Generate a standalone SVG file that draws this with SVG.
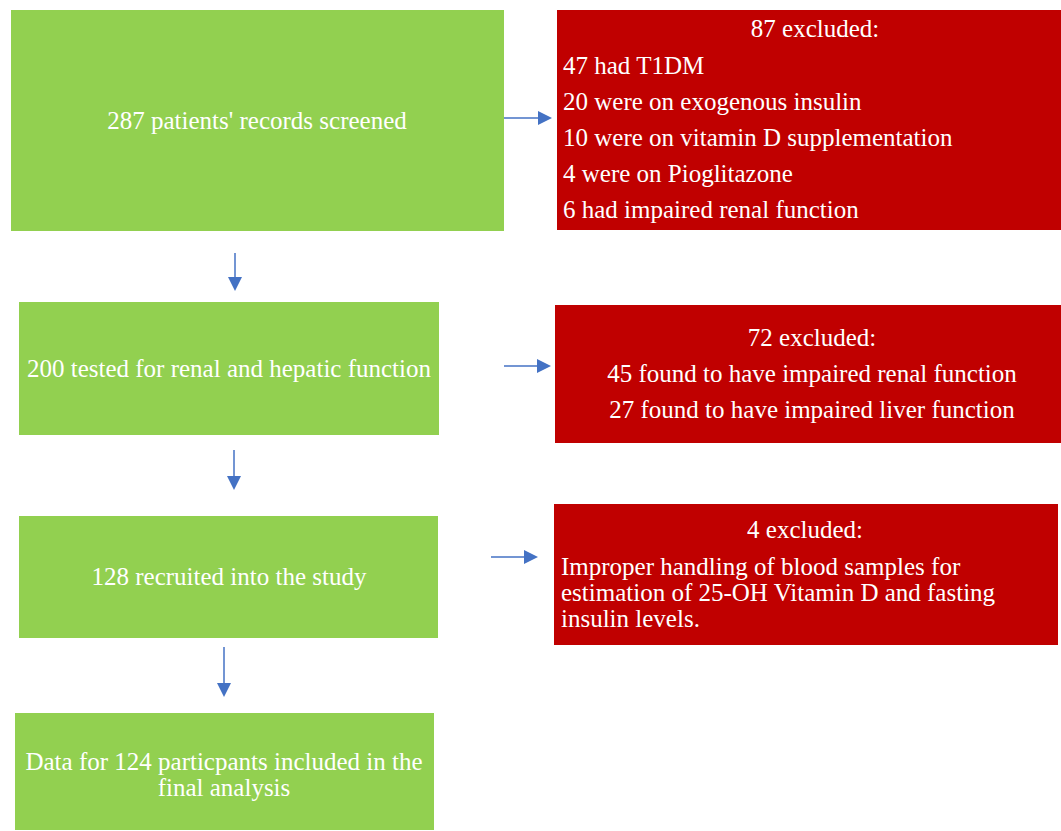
<svg xmlns="http://www.w3.org/2000/svg" width="1061" height="831" viewBox="0 0 1061 831">
<style>
.g{fill:#92D050}
.r{fill:#C00000}
text{font-family:"Liberation Serif","Times New Roman",serif;font-size:25px;fill:#fff}
.c{text-anchor:middle}
.a{stroke:#4472C4;stroke-width:1.5;fill:none}
</style>
<defs>
<marker id="ah2" markerWidth="14" markerHeight="14" refX="0" refY="7" orient="auto" markerUnits="userSpaceOnUse" viewBox="0 0 14 14">
<path d="M0,0 L14,7 L0,14 Z" fill="#4472C4"/>
</marker>
</defs>
<rect width="1061" height="831" fill="#fff"/>
<g id="connectors">
<line class="a" x1="504" y1="118" x2="538" y2="118" marker-end="url(#ah2)"/>
<line class="a" x1="235" y1="253" x2="235" y2="277" marker-end="url(#ah2)"/>
<line class="a" x1="504" y1="366" x2="537" y2="366" marker-end="url(#ah2)"/>
<line class="a" x1="234" y1="450" x2="234" y2="476" marker-end="url(#ah2)"/>
<line class="a" x1="491" y1="557" x2="524" y2="557" marker-end="url(#ah2)"/>
<line class="a" x1="224" y1="647" x2="224" y2="683" marker-end="url(#ah2)"/>
</g>
<g id="n1">
<rect class="g" x="11" y="10" width="493" height="221"/>
<text class="c" x="257" y="129">287 patients' records screened</text>
</g>
<g id="e1">
<rect class="r" x="557" y="10" width="504" height="220"/>
<text class="c" x="815" y="37">87 excluded:</text>
<text x="563" y="74">47 had T1DM</text>
<text x="563" y="110">20 were on exogenous insulin</text>
<text x="563" y="146">10 were on vitamin D supplementation</text>
<text x="563" y="182">4 were on Pioglitazone</text>
<text x="563" y="218">6 had impaired renal function</text>
</g>
<g id="n2">
<rect class="g" x="19" y="302" width="420" height="133"/>
<text class="c" x="229" y="377">200 tested for renal and hepatic function</text>
</g>
<g id="e2">
<rect class="r" x="555" y="305" width="506" height="138"/>
<text class="c" x="812" y="346">72 excluded:</text>
<text class="c" x="812" y="382">45 found to have impaired renal function</text>
<text class="c" x="812" y="418">27 found to have impaired liver function</text>
</g>
<g id="n3">
<rect class="g" x="19" y="516" width="419" height="122"/>
<text class="c" x="229" y="585">128 recruited into the study</text>
</g>
<g id="e3">
<rect class="r" x="554" y="504" width="504" height="141"/>
<text class="c" x="805" y="538">4 excluded:</text>
<text x="561" y="575">Improper handling of blood samples for</text>
<text x="561" y="601">estimation of 25-OH Vitamin D and fasting</text>
<text x="561" y="627">insulin levels.</text>
</g>
<g id="n4">
<rect class="g" x="15" y="713" width="419" height="117"/>
<text class="c" x="224" y="770">Data for 124 particpants included in the</text>
<text class="c" x="224" y="796">final analysis</text>
</g>
</svg>
